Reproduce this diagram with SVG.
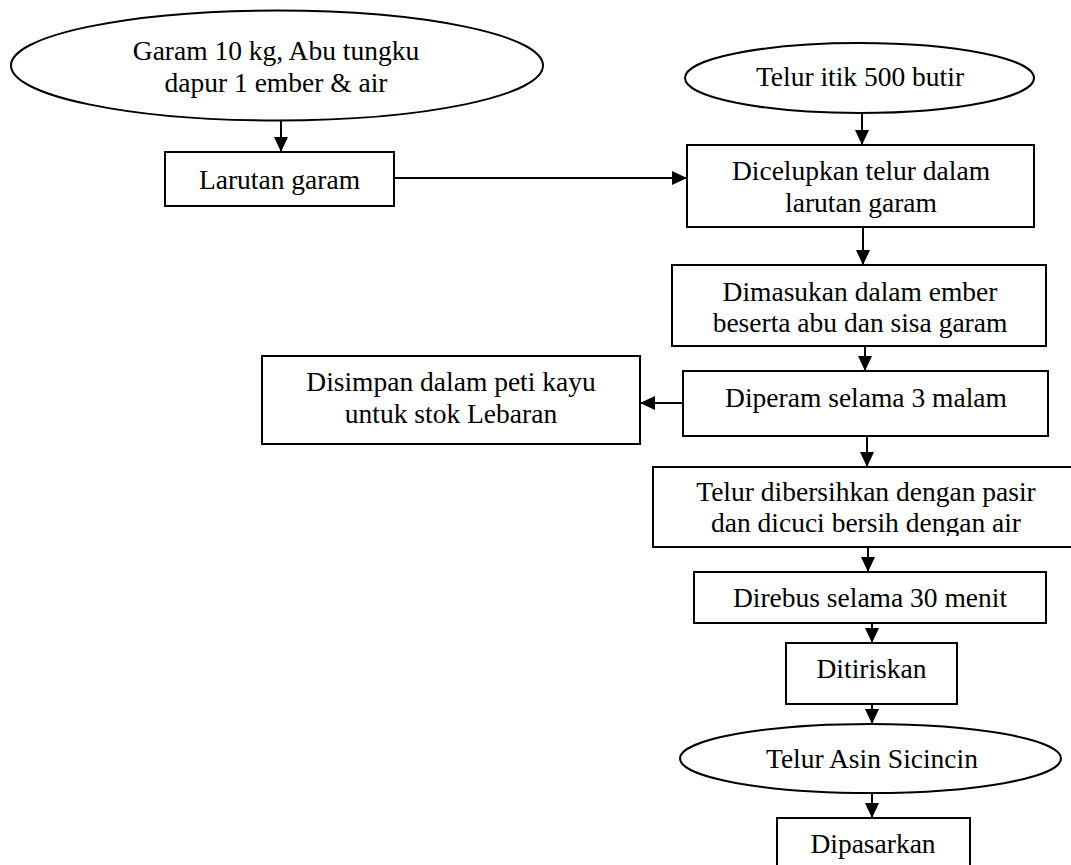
<svg xmlns="http://www.w3.org/2000/svg" width="1071" height="865" viewBox="0 0 1071 865">
<defs>
<style>
.n{fill:#fff;stroke:#000;stroke-width:2}
.t{font-family:"Liberation Serif","Times New Roman",serif;font-size:27.5px;fill:#000;text-anchor:middle}
.c{stroke:#000;stroke-width:2;fill:none;marker-end:url(#ah)}
</style>
<marker id="ah" markerUnits="userSpaceOnUse" markerWidth="15" markerHeight="14" refX="15" refY="7" orient="auto">
<path d="M0,0 L15,7 L0,14 Z" fill="#000"/>
</marker>
<clipPath id="clip8">
<rect x="653" y="467" width="426" height="69"/>
</clipPath>
</defs>
<rect width="1071" height="865" fill="#fff"/>
<g id="connectors">
<line class="c" x1="281" y1="121" x2="281" y2="152"/>
<line class="c" x1="394" y1="178" x2="687" y2="178"/>
<line class="c" x1="862" y1="113" x2="862" y2="145"/>
<line class="c" x1="863" y1="227" x2="863" y2="265"/>
<line class="c" x1="865" y1="346" x2="865" y2="371"/>
<line class="c" x1="683" y1="403" x2="640" y2="403"/>
<line class="c" x1="867" y1="436" x2="867" y2="467"/>
<line class="c" x1="868" y1="547" x2="868" y2="572"/>
<line class="c" x1="872" y1="623" x2="872" y2="643"/>
<line class="c" x1="872" y1="704" x2="872" y2="724"/>
<line class="c" x1="872" y1="793" x2="872" y2="818"/>
</g>
<g id="n1">
<ellipse class="n" cx="277" cy="65.5" rx="266" ry="55"/>
<text class="t" x="276" y="60">Garam 10 kg, Abu tungku</text>
<text class="t" x="276" y="92">dapur 1 ember &amp; air</text>
</g>
<g id="n2">
<rect class="n" x="165" y="152" width="229" height="54"/>
<text class="t" x="279.5" y="189">Larutan garam</text>
</g>
<g id="n3">
<ellipse class="n" cx="859.5" cy="78" rx="174.5" ry="35"/>
<text class="t" x="860" y="86">Telur itik 500 butir</text>
</g>
<g id="n4">
<rect class="n" x="687" y="145" width="347" height="82"/>
<text class="t" x="861" y="180">Dicelupkan telur dalam</text>
<text class="t" x="861" y="212">larutan garam</text>
</g>
<g id="n5">
<rect class="n" x="672" y="265" width="374" height="81"/>
<text class="t" x="860" y="301">Dimasukan dalam ember</text>
<text class="t" x="860" y="332">beserta abu dan sisa garam</text>
</g>
<g id="n6">
<rect class="n" x="683" y="371" width="365" height="65"/>
<text class="t" x="866" y="407">Diperam selama 3 malam</text>
</g>
<g id="n7">
<rect class="n" x="262" y="356" width="378" height="88"/>
<text class="t" x="451" y="391">Disimpan dalam peti kayu</text>
<text class="t" x="451" y="423">untuk stok Lebaran</text>
</g>
<g id="n8">
<rect class="n" x="653" y="467" width="426" height="80"/>
<g clip-path="url(#clip8)">
<text class="t" x="866" y="501">Telur dibersihkan dengan pasir</text>
<text class="t" x="866" y="532">dan dicuci bersih dengan air</text>
</g>
</g>
<g id="n9">
<rect class="n" x="694" y="572" width="352" height="51"/>
<text class="t" x="870" y="607">Direbus selama 30 menit</text>
</g>
<g id="n10">
<rect class="n" x="786" y="643" width="171" height="61"/>
<text class="t" x="871.5" y="678">Ditiriskan</text>
</g>
<g id="n11">
<ellipse class="n" cx="870.5" cy="758.5" rx="190.5" ry="34.5"/>
<text class="t" x="872" y="768">Telur Asin Sicincin</text>
</g>
<g id="n12">
<rect class="n" x="777" y="818" width="193" height="62"/>
<text class="t" x="873" y="853">Dipasarkan</text>
</g>
</svg>
